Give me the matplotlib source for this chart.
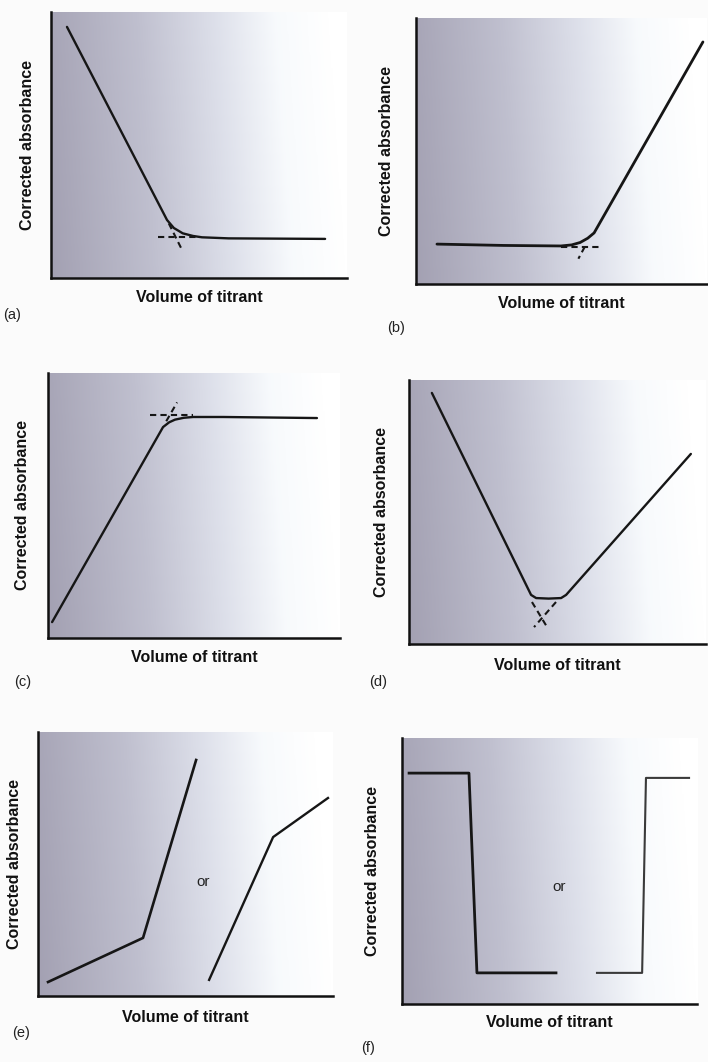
import numpy as np
import matplotlib
matplotlib.use("Agg")
import matplotlib.pyplot as plt
from matplotlib.colors import LinearSegmentedColormap

plt.rcParams['font.family'] = ['Liberation Sans', 'DejaVu Sans']

# ---------------- data (arbitrary units: volume 0-10, absorbance 0-10) ----------------
x_label = "Volume of titrant"
y_label = "Corrected absorbance"
panel_letters = ["(a)", "(b)", "(c)", "(d)", "(e)", "(f)"]

# (a) absorbing analyte, non-absorbing titrant
a_x = [0.54, 3.92, 4.15, 4.45, 4.80, 5.10, 6.00, 9.26]
a_y = [9.44, 2.18, 1.88, 1.68, 1.58, 1.53, 1.49, 1.47]
a_dash_h_x = [3.61, 5.03]
a_dash_h_y = [1.55, 1.55]
a_dash_s_x = [3.98, 4.43]
a_dash_s_y = [2.05, 1.05]

# (b) absorbing titrant
b_x = [0.72, 3.00, 4.98, 5.35, 5.64, 5.90, 6.12, 9.86]
b_y = [1.50, 1.45, 1.43, 1.47, 1.56, 1.72, 1.92, 9.10]
b_dash_h_x = [4.98, 6.39]
b_dash_h_y = [1.39, 1.39]
b_dash_s_x = [5.80, 5.58]
b_dash_s_y = [1.40, 0.95]

# (c) absorbing product
c_x = [0.14, 3.94, 4.15, 4.35, 4.65, 4.97, 6.00, 9.21]
c_y = [0.60, 7.96, 8.14, 8.24, 8.31, 8.34, 8.34, 8.30]
c_dash_h_x = [3.49, 4.97]
c_dash_h_y = [8.42, 8.42]
c_dash_s_x = [4.05, 4.42]
c_dash_s_y = [8.18, 8.89]

# (d) absorbing analyte and titrant
d_x = [0.77, 4.11, 4.28, 4.70, 5.12, 5.29, 9.49]
d_y = [9.51, 1.86, 1.74, 1.72, 1.74, 1.86, 7.20]
d_dash_l_x = [4.14, 4.65]
d_dash_l_y = [1.59, 0.64]
d_dash_r_x = [4.95, 4.21]
d_dash_r_y = [1.59, 0.64]

# (e) two alternatives
e1_x = [0.34, 3.56, 5.36]
e1_y = [0.53, 2.20, 8.94]
e2_x = [5.80, 7.97, 9.83]
e2_y = [0.61, 6.02, 7.50]

# (f) two alternatives
f1_x = [0.24, 2.27, 2.54, 5.22]
f1_y = [8.68, 8.68, 1.17, 1.17]
f2_x = [6.61, 8.14, 8.27, 9.73]
f2_y = [1.17, 1.17, 8.50, 8.50]

or_e = (5.59, 4.32)
or_f = (5.32, 4.40)

# ---------------- layout (pixels in a 708x1062 canvas) ----------------
W, H = 708, 1062
# left, right, top, bottom of each plotting frame
frames = [(51, 347, 12, 278), (416, 707, 18, 284),
          (48, 340, 373, 638), (409, 706, 380, 644),
          (38, 333, 732, 996), (402, 697, 738, 1004)]
ylab_pos = [-0.078, -0.10, -0.089, -0.094, -0.078, -0.10]
xlab_pos = [-0.075, -0.075, -0.075, -0.08, -0.08, -0.071]
letter_pos = [(3, 315), (387, 328), (14, 682), (369, 682), (12, 1033), (361, 1048)]

fig = plt.figure(figsize=(W / 100, H / 100), dpi=100)
fig.patch.set_facecolor('#fbfbfb')

shade = LinearSegmentedColormap.from_list(
    'shade',
    [(0.0, (0.64, 0.63, 0.70)), (0.35, (0.75, 0.75, 0.81)),
     (0.62, (0.87, 0.88, 0.92)), (0.82, (0.97, 0.98, 0.99)),
     (1.0, (1.0, 1.0, 1.0))])

axes = []
for (l, r, t, b) in frames:
    ax = fig.add_axes([l / W, 1 - b / H, (r - l) / W, (b - t) / H])
    ax.set_xlim(0, 10)
    ax.set_ylim(0, 10)
    gx = np.linspace(0, 1, 256)[None, :]
    gy = np.linspace(0, 1, 64)[:, None]
    grad = gx + 0.06 * (1 - gy)
    ax.imshow(grad, cmap=shade, extent=(0, 10, 0, 10), origin='upper',
              aspect='auto', vmin=0, vmax=1, zorder=0, interpolation='bilinear')
    ax.set_facecolor('none')
    for s in ['top', 'right']:
        ax.spines[s].set_visible(False)
    for s in ['left', 'bottom']:
        ax.spines[s].set_linewidth(1.8)
        ax.spines[s].set_color('#111111')
    ax.set_xticks([])
    ax.set_yticks([])
    axes.append(ax)

lw = 1.7
lc = '#161616'
dash = dict(color=lc, lw=1.5, linestyle=(0, (3.0, 2.0)))

ax = axes[0]
ax.plot(a_x, a_y, color=lc, lw=lw, solid_capstyle='round')
ax.plot(a_dash_h_x, a_dash_h_y, **dash)
ax.plot(a_dash_s_x, a_dash_s_y, **dash)

ax = axes[1]
ax.plot(b_x, b_y, color=lc, lw=lw + 0.3, solid_capstyle='round')
ax.plot(b_dash_h_x, b_dash_h_y, **dash)
ax.plot(b_dash_s_x, b_dash_s_y, **dash)

ax = axes[2]
ax.plot(c_x, c_y, color=lc, lw=lw, solid_capstyle='round')
ax.plot(c_dash_h_x, c_dash_h_y, **dash)
ax.plot(c_dash_s_x, c_dash_s_y, **dash)

ax = axes[3]
ax.plot(d_x, d_y, color=lc, lw=lw, solid_capstyle='round')
ax.plot(d_dash_l_x, d_dash_l_y, **dash)
ax.plot(d_dash_r_x, d_dash_r_y, **dash)

ax = axes[4]
ax.plot(e1_x, e1_y, color=lc, lw=lw + 0.2)
ax.plot(e2_x, e2_y, color=lc, lw=lw)
ax.text(or_e[0], or_e[1], "or", ha='center', va='center', fontsize=11, color='#222222')

ax = axes[5]
ax.plot(f1_x, f1_y, color=lc, lw=lw + 0.3)
ax.plot(f2_x, f2_y, color='#3a3a3a', lw=lw - 0.2)
ax.text(or_f[0], or_f[1], "or", ha='center', va='center', fontsize=11, color='#222222')

for i, ax in enumerate(axes):
    ax.text(0.5, xlab_pos[i], x_label, transform=ax.transAxes, ha='center', va='center',
            fontsize=11.5, fontweight='bold', color='#111111')
    ax.text(ylab_pos[i], 0.5, y_label, transform=ax.transAxes, ha='center', va='center',
            rotation=90, fontsize=11.5, fontweight='bold', color='#111111')
    px, py = letter_pos[i]
    fig.text(px / W, 1 - py / H, panel_letters[i], ha='left', va='center',
             fontsize=10.5, color='#222222')

fig.savefig('out.png', dpi=100)
